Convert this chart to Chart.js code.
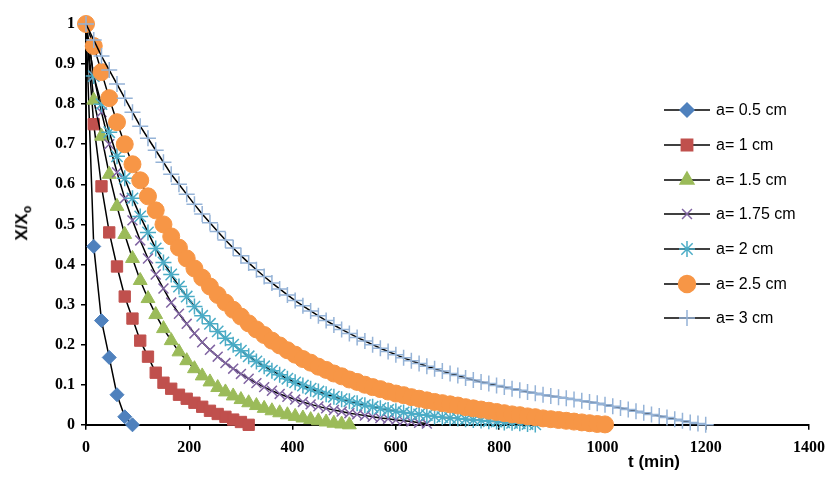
<!DOCTYPE html>
<html>
<head>
<meta charset="utf-8">
<script src="https://cdn.jsdelivr.net/npm/chart.js@4/dist/chart.umd.min.js"></script>
<style>
  body { margin: 0; background: #fff; }
  #wrap { position: relative; width: 833px; height: 479px; }
  #yTitle { position: absolute; left: 6px; top: 212px; transform: rotate(-90deg); font: bold 17px "Liberation Sans", Arial, sans-serif; }
  #xTitle { position: absolute; left: 628px; top: 452px; font: bold 17px "Liberation Sans", Arial, sans-serif; }
  #legend { position: absolute; left: 664px; top: 93px; font: 16px "Liberation Sans", Arial, sans-serif; }
  .item { height: 34.7px; display: flex; align-items: center; }
  .item canvas { margin-right: 6px; }
</style>
</head>
<body>
<div id="wrap">
  <canvas id="chart" width="833" height="479"></canvas>
  <div id="yTitle">X/X<sub style="font-size:12px">o</sub></div>
  <div id="xTitle">t (min)</div>
  <div id="legend"></div>
</div>
<script>
// time step of every series is 15 min
let step = 15;

let labels = ["a= 0.5 cm", "a= 1 cm", "a= 1.5 cm", "a= 1.75 cm", "a= 2 cm", "a= 2.5 cm", "a= 3 cm"];
let colors = ["#4F81BD", "#C0504D", "#9BBB59", "#8064A2", "#4BACC6", "#F79646", "#95B3D7"];
let styles = ["rectRot", "rect", "triangle", "crossRot", "star", "circle", "cross"];

let a05 = [1, 0.445, 0.26, 0.168, 0.075, 0.02, 0];
let a1 = [1, 0.75, 0.595, 0.48, 0.395, 0.32, 0.265, 0.21, 0.17, 0.13, 0.105, 0.09, 0.075, 0.065, 0.055, 0.045, 0.035, 0.027, 0.02, 0.013, 0.007, 0];
let a15 = [1, 0.81, 0.72, 0.625, 0.545, 0.475, 0.415, 0.36, 0.315, 0.275, 0.24, 0.21, 0.182, 0.16, 0.14, 0.122, 0.107, 0.093, 0.082, 0.072, 0.063, 0.055, 0.048, 0.041, 0.035, 0.03, 0.025, 0.021, 0.017, 0.013, 0.01, 0.007, 0.004, 0.002, 0];
let a175 = [1, 0.87, 0.78, 0.7, 0.63, 0.565, 0.51, 0.46, 0.415, 0.375, 0.34, 0.305, 0.277, 0.252, 0.228, 0.206, 0.187, 0.17, 0.154, 0.14, 0.127, 0.115, 0.104, 0.094, 0.085, 0.077, 0.07, 0.063, 0.057, 0.051, 0.046, 0.041, 0.037, 0.033, 0.029, 0.026, 0.023, 0.02, 0.017, 0.015, 0.012, 0.01, 0.008, 0.005, 0.003];
let a2 = [1, 0.87, 0.8, 0.73, 0.67, 0.615, 0.565, 0.52, 0.48, 0.44, 0.405, 0.375, 0.345, 0.32, 0.295, 0.272, 0.252, 0.233, 0.216, 0.2, 0.185, 0.171, 0.158, 0.146, 0.135, 0.125, 0.115, 0.106, 0.098, 0.09, 0.083, 0.076, 0.07, 0.064, 0.059, 0.054, 0.049, 0.045, 0.041, 0.037, 0.034, 0.031, 0.028, 0.026, 0.024, 0.021, 0.019, 0.017, 0.016, 0.014, 0.012, 0.011, 0.009, 0.008, 0.006, 0.005, 0.004, 0.002, 0.001];
let a25 = [1, 0.945, 0.88, 0.815, 0.755, 0.7, 0.65, 0.61, 0.57, 0.535, 0.5, 0.47, 0.442, 0.415, 0.39, 0.367, 0.345, 0.324, 0.305, 0.287, 0.27, 0.253, 0.238, 0.224, 0.21, 0.198, 0.186, 0.175, 0.164, 0.155, 0.145, 0.137, 0.128, 0.121, 0.113, 0.107, 0.1, 0.094, 0.089, 0.083, 0.078, 0.074, 0.069, 0.065, 0.061, 0.057, 0.054, 0.051, 0.048, 0.044, 0.041, 0.038, 0.035, 0.032, 0.029, 0.026, 0.024, 0.021, 0.019, 0.016, 0.014, 0.012, 0.01, 0.008, 0.006, 0.004, 0.002, 0.001];
let a3 = [1, 0.96, 0.92, 0.885, 0.85, 0.815, 0.78, 0.745, 0.715, 0.685, 0.655, 0.625, 0.6, 0.575, 0.55, 0.526, 0.504, 0.482, 0.461, 0.441, 0.422, 0.404, 0.387, 0.37, 0.354, 0.339, 0.324, 0.31, 0.297, 0.284, 0.272, 0.26, 0.249, 0.238, 0.228, 0.218, 0.209, 0.2, 0.191, 0.183, 0.175, 0.167, 0.16, 0.153, 0.146, 0.14, 0.134, 0.128, 0.123, 0.117, 0.112, 0.107, 0.103, 0.098, 0.094, 0.09, 0.086, 0.082, 0.079, 0.075, 0.072, 0.069, 0.066, 0.063, 0.06, 0.057, 0.054, 0.05, 0.046, 0.042, 0.038, 0.034, 0.03, 0.026, 0.022, 0.018, 0.014, 0.01, 0.006, 0.003, 0];
let series = [a05, a1, a15, a175, a2, a25, a3];
let sizes = [7, 8, 8, 7, 8, 8.5, 8];

let xTicks = [0, 200, 400, 600, 800, 1000, 1200, 1400];

function toPoints(arr)
{
  return arr.map((v, i) => ({ x: i * step, y: v }));
}

let datasets = series.map((s, i) => ({
  label: labels[i],
  data: toPoints(s),
  showLine: true,
  clip: false,
  borderColor: "#000",
  borderWidth: 1.5,
  pointStyle: styles[i],
  pointRadius: sizes[i],
  pointBackgroundColor: colors[i],
  pointBorderColor: colors[i],
  pointBorderWidth: (styles[i] == "crossRot" || styles[i] == "star" || styles[i] == "cross") ? 1.5 : 1,
  order: 7 - i
}));

let tickFont = { family: "Liberation Serif", size: 16, weight: "bold" };

new Chart(document.getElementById("chart"), {
  type: 'scatter',
  data: { datasets: datasets },
  options: {
    responsive: false,
    animation: false,
    layout: { padding: { left: 36, right: 11, top: 24, bottom: 14 } },
    plugins: { legend: { display: false }, tooltip: { enabled: false } },
    scales: {
      x: {
        min: 0, max: 1400,
        afterBuildTicks: ax => { ax.ticks = xTicks.map(v => ({ value: v })); },
        grid: { drawOnChartArea: false, color: "#000", tickLength: 5, lineWidth: 1.5 },
        border: { color: "#000", width: 2 },
        ticks: { color: "#000", font: tickFont, padding: 8, callback: v => String(v) }
      },
      y: {
        min: 0, max: 1,
        afterFit: ax => { ax.width = 50; },
        grid: { drawOnChartArea: false, color: "#000", tickLength: 5, lineWidth: 1.5 },
        border: { color: "#000", width: 2 },
        ticks: { color: "#000", font: tickFont, stepSize: 0.1, padding: 6, callback: v => Math.round(v * 10) / 10 }
      }
    }
  }
});

// legend in html
let legend = document.getElementById("legend");
labels.forEach((lab, i) => {
  let item = document.createElement("div");
  item.className = "item";
  let c = document.createElement("canvas");
  c.width = 46; c.height = 22;
  let ctx = c.getContext("2d");
  ctx.strokeStyle = "#000"; ctx.lineWidth = 1.5;
  ctx.beginPath(); ctx.moveTo(0, 11); ctx.lineTo(46, 11); ctx.stroke();
  ctx.fillStyle = colors[i]; ctx.strokeStyle = colors[i];
  Chart.helpers.drawPoint(ctx, { pointStyle: styles[i], radius: sizes[i], rotation: 0, borderWidth: 1.5 }, 23, 11);
  item.appendChild(c);
  let t = document.createElement("span");
  t.textContent = lab;
  item.appendChild(t);
  legend.appendChild(item);
});
</script>
</body>
</html>
